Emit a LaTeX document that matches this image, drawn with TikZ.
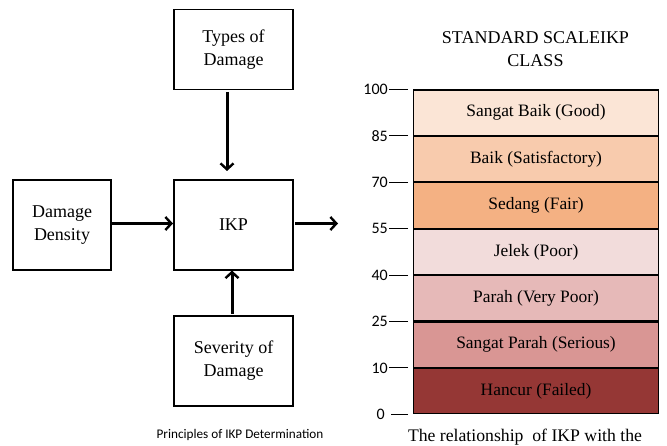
\documentclass[tikz,border=0pt]{standalone}
\usepackage{fontspec}
\setmainfont{Liberation Serif}
\newfontfamily\capfont{Carlito}
\usetikzlibrary{arrows.meta}
\definecolor{cA}{HTML}{FBE5D6}
\definecolor{cB}{HTML}{F8CBAD}
\definecolor{cC}{HTML}{F4B183}
\definecolor{cD}{HTML}{F2DCDB}
\definecolor{cE}{HTML}{E6B9B8}
\definecolor{cF}{HTML}{D99694}
\definecolor{cG}{HTML}{953735}
\tikzset{
  blk/.style={draw, line width=1.3pt, minimum width=119pt, minimum height=80pt, align=center, font=\fontsize{18}{23}\selectfont, inner sep=0pt},
  arr/.style={line width=3pt, -{Straight Barb[length=6pt,width=13pt,line width=2.4pt]}},
  band/.style={draw, line width=1.1pt, minimum width=245pt, minimum height=45.3pt, inner sep=0pt, font=\fontsize{17.4}{19}\selectfont, anchor=north west},
  tickline/.style={line width=1pt},
  ticklab/.style={font=\capfont\fontsize{16}{18}\selectfont, anchor=east, inner sep=0pt},
}
\begin{document}
\begin{tikzpicture}[x=1pt,y=-1pt]
\useasboundingbox (0,0) rectangle (667,446);
% left diagram
\node[blk] (types) at (233.5,49.5) {Types of\\Damage};
\node[blk, minimum height=90pt] (ikp) at (233.5,225) {IKP};
\node[blk, minimum width=98pt, minimum height=90pt] (dd) at (62,225) {Damage\\Density};
\node[blk, minimum height=90pt] (sev) at (233.5,361) {Severity of\\Damage};
\coordinate (a1s) at (227,92);
\coordinate (a1e) at (227,171);
\coordinate (a2s) at (232,314);
\coordinate (a2e) at (232,270.5);
\coordinate (a3s) at (112,223.5);
\coordinate (a3e) at (173,223.5);
\coordinate (a4s) at (295,223.5);
\coordinate (out) at (338,223.5);
\draw[arr] (a1s) -- (a1e);
\draw[arr] (a2s) -- (a2e);
\draw[arr] (a3s) -- (a3e);
\draw[arr] (a4s) -- (out);
\node[font=\capfont\fontsize{13.2}{15}\selectfont, anchor=base] (cap1) at (240,438) {Principles of IKP Determination};
% right diagram
\node[font=\fontsize{18}{23}\selectfont, align=center] (title) at (535.5,49.5) {STANDARD SCALEIKP\\CLASS};
\node[band, fill=cA] (b1) at (413,89.5) {Sangat Baik (Good)};
\node[band, fill=cB] (b2) at (b1.south west) {Baik (Satisfactory)};
\node[band, fill=cC] (b3) at (b2.south west) {Sedang (Fair)};
\node[band, fill=cD] (b4) at (b3.south west) {Jelek (Poor)};
\node[band, fill=cE] (b5) at (b4.south west) {Parah (Very Poor)};
\node[band, fill=cF] (b6) at (b5.south west) {Sangat Parah (Serious)};
\node[band, fill=cG] (b7) at (b6.south west) {Hancur (Failed)};
\foreach \b/\v in {b1/100,b2/85,b3/70,b4/55,b5/40,b6/25,b7/10}{
  \draw[tickline] ([xshift=-5pt]\b.north west) -- ++(-19pt,0) coordinate (t\v);
  \node[ticklab] (l\v) at ([xshift=-1pt]t\v) {\v};
}
\draw[tickline] ([xshift=-5pt]b7.south west) -- ++(-17pt,0) coordinate (t0);
\node[ticklab] (l0) at ([xshift=-6pt]t0) {0};
\node[font=\fontsize{17.7}{19}\selectfont, anchor=base] (cap2) at (525,441) {The relationship\ \ of IKP with the};
\end{tikzpicture}
\end{document}
